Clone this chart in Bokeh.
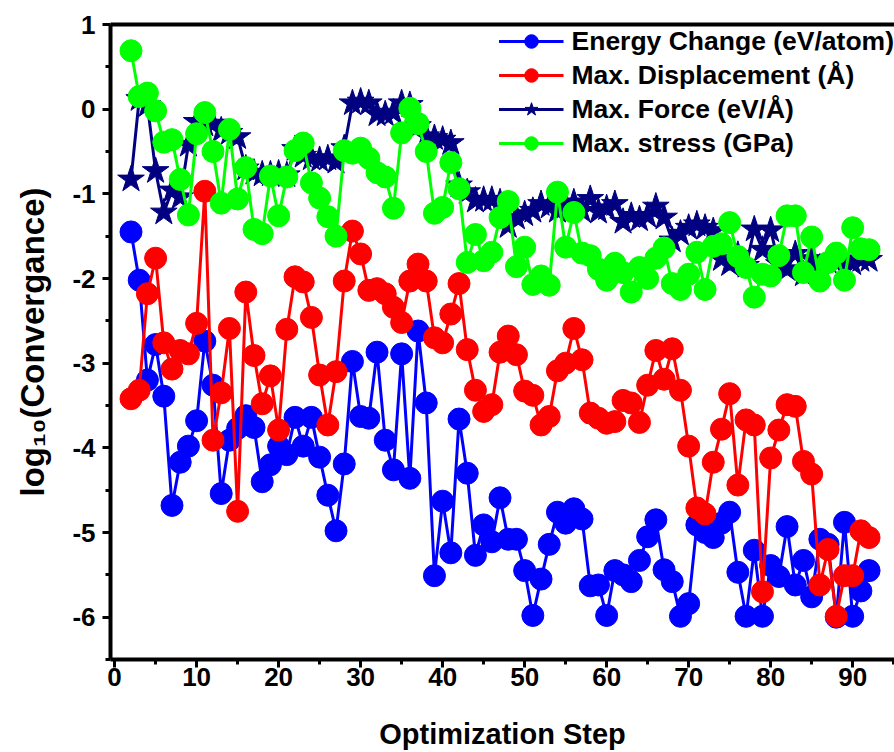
from bokeh.plotting import figure
from bokeh.models import FixedTicker, LinearAxis, Range1d, CustomJSTickFormatter
from bokeh.embed import file_html
from bokeh.resources import INLINE

steps = list(range(2, 93))

energy_change = [
    -1.45, -2.02, -3.2, -2.78, -3.39, -4.68, -4.17, -3.98, -3.68, -2.74,
    -3.26, -4.54, -3.91, -3.77, -3.62, -3.76, -4.4, -4.2, -3.98, -4.08,
    -3.64, -3.98, -3.64, -4.11, -4.56, -4.98, -4.19, -2.98, -3.63, -3.65,
    -2.87, -3.91, -4.26, -2.89, -4.36, -2.62, -3.47, -5.51, -4.63, -5.24,
    -3.66, -4.30, -5.27, -4.91, -5.11, -4.59, -5.08, -5.08, -5.45, -5.98,
    -5.55, -5.14, -4.76, -4.89, -4.72, -4.84, -5.63, -5.62, -5.98, -5.45,
    -5.5, -5.58, -5.33, -5.05, -4.85, -5.44, -5.58, -5.99, -5.84, -4.91,
    -5.0, -5.06, -4.89, -4.76, -5.47, -5.99, -5.21, -5.99, -5.39, -5.52,
    -4.93, -5.62, -5.33, -5.76, -5.08, -5.14, -6.0, -4.88, -5.99, -5.69,
    -5.45]

max_displacement = [
    -3.42, -3.32, -2.18, -1.76, -2.76, -3.07, -2.85, -2.89, -2.53, -0.97,
    -3.91, -3.35, -2.59, -4.75, -2.16, -2.91, -3.48, -3.15, -3.79, -2.6,
    -1.98, -2.04, -2.46, -3.14, -3.73, -3.1, -2.03, -1.44, -1.71, -2.14,
    -2.12, -2.18, -2.34, -2.52, -2.03, -1.83, -2.03, -2.7, -2.76, -2.42,
    -2.06, -2.84, -3.32, -3.57, -3.49, -2.87, -2.68, -2.9, -3.33, -3.38,
    -3.73, -3.63, -3.09, -3.0, -2.59, -2.96, -3.59, -3.65, -3.71, -3.69,
    -3.44, -3.47, -3.70, -3.26, -2.85, -3.19, -2.83, -3.32, -3.98, -4.71,
    -4.78, -4.17, -3.78, -3.36, -4.44, -3.67, -3.73, -5.7, -4.12, -3.79,
    -3.49, -3.51, -4.16, -4.31, -5.62, -5.2, -5.99, -5.51, -5.51, -4.98,
    -5.06]

max_force = [
    -0.83, 0.12, 0.05, -0.73, -1.22, -0.96, -1.04, -0.42, -0.15, -0.18,
    -0.17, -0.25, -0.28, -0.33, -0.7, -0.75, -0.77, -0.77, -0.76, -0.78,
    -0.47, -0.55, -0.58, -0.6, -0.58, -0.62, -0.46, 0.07, 0.09, 0.07,
    -0.06, -0.06, -0.04, 0.07, 0.05, -0.2, -0.32, -0.34, -0.36, -0.4,
    -0.9, -0.98, -1.08, -1.07, -1.07, -1.1, -1.38, -1.28, -1.24, -1.2,
    -1.12, -1.15, -1.2, -1.14, -1.1, -1.2, -1.06, -1.21, -1.17, -1.12,
    -1.33, -1.26, -1.3, -1.26, -1.15, -1.28, -1.55, -1.47, -1.40, -1.36,
    -1.40, -1.44, -1.77, -1.83, -1.72, -1.85, -1.42, -1.66, -1.43, -1.83,
    -1.89, -1.71, -1.95, -1.77, -1.87, -1.8, -1.81, -1.87, -1.82, -1.78,
    -1.78]

max_stress = [
    0.69, 0.15, 0.19, -0.02, -0.39, -0.36, -0.83, -1.25, -0.29, -0.04,
    -0.50, -1.11, -0.24, -1.06, -0.69, -1.42, -1.47, -0.79, -1.26, -0.80,
    -0.49, -0.40, -0.87, -1.05, -1.27, -1.50, -0.49, -0.52, -0.46, -0.58,
    -0.75, -0.80, -1.17, -0.28, 0.01, -0.17, -0.50, -1.23, -1.16, -0.63,
    -0.94, -1.81, -1.48, -1.79, -1.69, -1.28, -1.09, -1.86, -1.63, -2.07,
    -1.97, -2.08, -0.98, -1.63, -1.22, -1.70, -1.73, -1.89, -2.02, -1.82,
    -1.93, -2.16, -1.87, -2.0, -1.76, -1.64, -2.06, -2.13, -1.95, -1.69,
    -2.13, -1.62, -1.59, -1.34, -1.74, -1.87, -2.22, -1.95, -1.97, -1.73,
    -1.26, -1.26, -1.93, -1.51, -2.03, -1.81, -1.70, -2.02, -1.40, -1.65,
    -1.66]

x_ticks = [0, 10, 20, 30, 40, 50, 60, 70, 80, 90]
x_minor = [5, 15, 25, 35, 45, 55, 65, 75, 85, 95]
y_ticks = [-6, -5, -4, -3, -2, -1, 0, 1]
y_minor = [-6.5, -5.5, -4.5, -3.5, -2.5, -1.5, -0.5, 0.5]

series = [
    ("Energy Change (eV/atom)", energy_change, "#0000FF", "circle", 22),
    ("Max. Displacement (\u00c5)", max_displacement, "#FF0000", "circle", 22),
    ("Max. Force (eV/\u00c5)", max_force, "#000080", "star", 28),
    ("Max. stress (GPa)", max_stress, "#00FF00", "circle", 22),
]

FONT = "Liberation Sans"

p = figure(width=894, height=752, output_backend="svg", toolbar_location=None,
           x_range=Range1d(-0.5, 95.1), y_range=Range1d(-6.5, 1.0),
           min_border_left=110, min_border_right=0, min_border_top=24,
           min_border_bottom=91)
p.outline_line_color = None
p.grid.visible = False
p.background_fill_color = "white"
p.border_fill_color = "white"

for label, vals, color, marker, size in series:
    p.line(steps, vals, line_color=color, line_width=3, legend_label=label)
    p.scatter(steps, vals, marker=marker, size=size, fill_color=color,
              line_color=color, line_width=1, legend_label=label)

xa = p.xaxis[0]
xa.ticker = FixedTicker(ticks=x_ticks, minor_ticks=x_minor)
xa.formatter = CustomJSTickFormatter(code="return String(tick);")
xa.axis_label = "Optimization Step"
ya = p.yaxis[0]
ya.ticker = FixedTicker(ticks=y_ticks, minor_ticks=y_minor)
ya.formatter = CustomJSTickFormatter(code="return String(tick);")
ya.axis_label = "log\u2081\u2080(Convergance)"

for ax in (xa, ya):
    ax.axis_line_width = 4
    ax.axis_line_color = "black"
    ax.major_tick_line_width = 3
    ax.minor_tick_line_width = 3
    ax.major_tick_in = 0
    ax.minor_tick_in = 0
    ax.major_tick_out = 8
    ax.minor_tick_out = 5
    ax.major_label_text_font = FONT
    ax.major_label_text_font_style = "bold"
    ax.major_label_text_font_size = "26px"
    ax.major_label_text_color = "black"
    ax.axis_label_text_font = FONT
    ax.axis_label_text_font_style = "bold"
    ax.axis_label_text_color = "black"

xa.major_label_standoff = 0
xa.axis_label_text_font_size = "29px"
xa.axis_label_standoff = 29
ya.major_label_standoff = 7
ya.axis_label_text_font_size = "33px"
ya.axis_label_standoff = 18

top = LinearAxis(ticker=FixedTicker(ticks=[]), axis_line_width=4,
                 axis_line_color="black", major_label_text_font_size="0px",
                 major_tick_out=0, minor_tick_out=0)
p.add_layout(top, "above")

lg = p.legend[0]
lg.location = "top_right"
lg.border_line_color = None
lg.background_fill_alpha = 0
lg.margin = 0
lg.padding = 2
lg.spacing = 0
lg.glyph_width = 65
lg.glyph_height = 34
lg.label_height = 34
lg.label_standoff = 8
lg.label_text_font = FONT
lg.label_text_font_style = "bold"
lg.label_text_font_size = "26.5px"
lg.label_text_color = "black"

open("out.html", "w").write(file_html(p, INLINE))
